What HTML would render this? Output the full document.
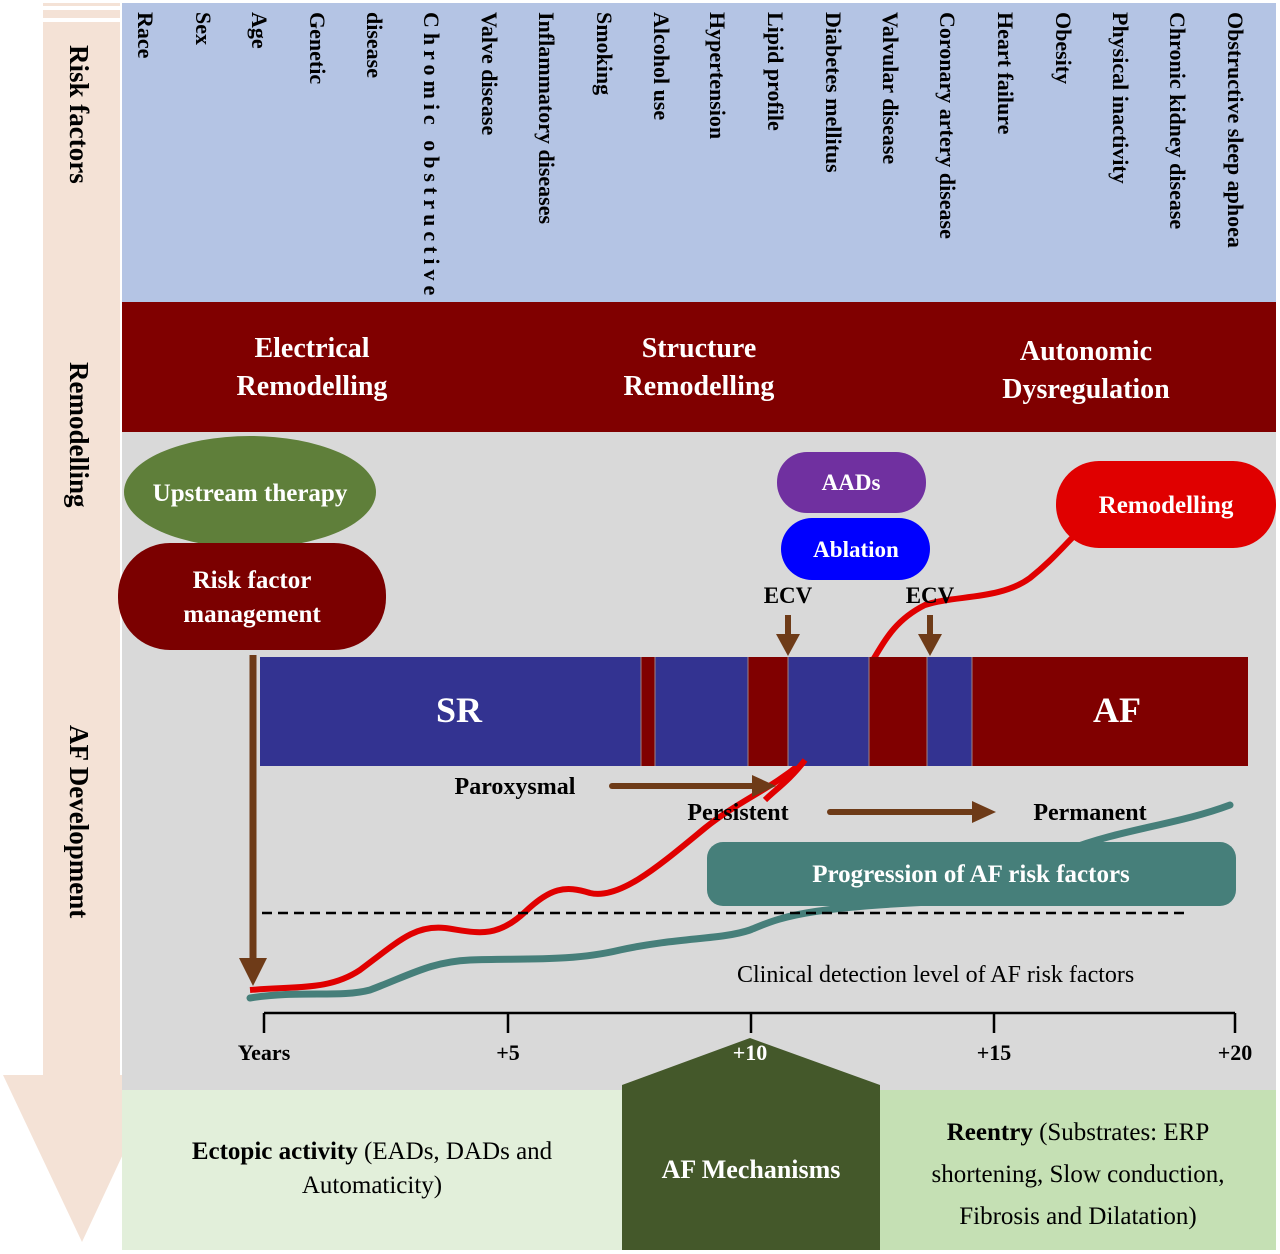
<!DOCTYPE html>
<html><head><meta charset="utf-8"><style>body{margin:0;background:#fff}svg{display:block}</style></head><body>
<svg width="1280" height="1254" viewBox="0 0 1280 1254" xmlns="http://www.w3.org/2000/svg" font-family="Liberation Serif, serif" font-weight="bold">
<!-- left arrow -->
<rect x="43" y="3" width="77" height="3" fill="#f4e2d6"/>
<rect x="43" y="10" width="77" height="8" fill="#f4e2d6"/>
<rect x="43" y="22" width="77" height="1060" fill="#f4e2d6"/>
<polygon points="3,1075 160,1075 82,1242" fill="#f4e2d6"/>
<g font-size="27" fill="#000">
<text transform="translate(70,45) rotate(90)">Risk factors</text>
<text transform="translate(70,362) rotate(90)">Remodelling</text>
<text transform="translate(70,725) rotate(90)">AF Development</text>
</g>
<!-- panels -->
<rect x="122" y="3" width="1154" height="300" fill="#b4c4e4"/>
<rect x="122" y="302" width="1154" height="130" fill="#800000"/>
<rect x="122" y="432" width="1154" height="660" fill="#d9d9d9"/>
<rect x="122" y="1090" width="500" height="160" fill="#e2efda"/>
<rect x="880" y="1090" width="396" height="160" fill="#c5e0b4"/>
<polygon points="622,1085 750,1038 880,1085 880,1250 622,1250" fill="#44582a"/>
<!-- risk factors -->
<g font-size="22" fill="#000">
<text transform="translate(138,12) rotate(90)">Race</text>
<text transform="translate(196,12) rotate(90)">Sex</text>
<text transform="translate(252,12) rotate(90)">Age</text>
<text transform="translate(310,12) rotate(90)">Genetic</text>
<text transform="translate(367,12) rotate(90)">disease</text>
<text transform="translate(424,12) rotate(90)" letter-spacing="5">Chromic obstructive</text>
<text transform="translate(482,12) rotate(90)">Valve disease</text>
<text transform="translate(539,12) rotate(90)">Inflammatory diseases</text>
<text transform="translate(597,12) rotate(90)">Smoking</text>
<text transform="translate(654,12) rotate(90)">Alcohol use</text>
<text transform="translate(710,12) rotate(90)">Hypertension</text>
<text transform="translate(768,12) rotate(90)">Lipid profile</text>
<text transform="translate(826,12) rotate(90)">Diabetes mellitus</text>
<text transform="translate(883,12) rotate(90)">Valvular disease</text>
<text transform="translate(940,12) rotate(90)">Coronary artery disease</text>
<text transform="translate(998,12) rotate(90)">Heart failure</text>
<text transform="translate(1056,12) rotate(90)">Obesity</text>
<text transform="translate(1113,12) rotate(90)">Physical inactivity</text>
<text transform="translate(1170,12) rotate(90)">Chronic kidney disease</text>
<text transform="translate(1228,12) rotate(90)">Obstructive sleep aphoea</text>
</g>
<g font-size="28" fill="#fff" text-anchor="middle">
<text x="312" y="357">Electrical</text><text x="312" y="395">Remodelling</text>
<text x="699" y="357">Structure</text><text x="699" y="395">Remodelling</text>
<text x="1086" y="360">Autonomic</text><text x="1086" y="398">Dysregulation</text>
</g>
<!-- curves -->
<path d="M250,990 C300,986 330,990 360,970 C400,940 415,925 445,928 C475,932 495,940 525,912 C550,888 565,885 590,893 C620,900 660,865 705,828 C740,800 770,790 805,760 L870,665 C885,640 895,620 925,605 C955,595 1000,600 1030,578 C1050,562 1060,550 1075,535" fill="none" stroke="#e00000" stroke-width="6"/>
<path d="M250,998 C300,990 340,998 370,990 C410,975 430,962 470,960 C520,958 570,962 620,950 C680,937 720,940 750,930 C780,918 800,905 990,900 C1060,830 1150,835 1230,805" fill="none" stroke="#467f7a" stroke-width="7" stroke-linecap="round"/>
<!-- bar -->
<rect x="260" y="657" width="381" height="109" fill="#333391"/>
<rect x="641" y="657" width="14" height="109" fill="#800000"/>
<rect x="655" y="657" width="93" height="109" fill="#333391"/>
<rect x="748" y="657" width="40" height="109" fill="#800000"/>
<rect x="788" y="657" width="81" height="109" fill="#333391"/>
<rect x="869" y="657" width="58" height="109" fill="#800000"/>
<rect x="927" y="657" width="45" height="109" fill="#333391"/>
<rect x="972" y="657" width="276" height="109" fill="#800000"/>
<g stroke="#a08080" stroke-width="1" fill="none"><path d="M641,657V766M655,657V766M748,657V766M788,657V766M869,657V766M927,657V766M972,657V766"/></g>
<text x="459" y="722" font-size="36" fill="#fff" text-anchor="middle">SR</text>
<text x="1117" y="722" font-size="36" fill="#fff" text-anchor="middle">AF</text>
<!-- red curve through bar lower part -->
<path d="M765,800 C775,790 790,780 805,760" fill="none" stroke="#e00000" stroke-width="6"/>
<!-- shapes -->
<ellipse cx="250" cy="492" rx="126" ry="56" fill="#5f7f3a"/>
<text x="250" y="501" font-size="25" fill="#fff" text-anchor="middle">Upstream therapy</text>
<rect x="118" y="543" width="268" height="107" rx="52" fill="#7b0000"/>
<text x="252" y="588" font-size="25" fill="#fff" text-anchor="middle">Risk factor</text>
<text x="252" y="622" font-size="25" fill="#fff" text-anchor="middle">management</text>
<rect x="777" y="452" width="149" height="61" rx="30" fill="#7030a0"/>
<text x="851" y="490" font-size="23" fill="#fff" text-anchor="middle">AADs</text>
<rect x="781" y="518" width="149" height="62" rx="31" fill="#0000ff"/>
<text x="856" y="557" font-size="23" fill="#fff" text-anchor="middle">Ablation</text>
<rect x="1056" y="461" width="220" height="87" rx="43" fill="#e00000"/>
<text x="1166" y="513" font-size="25" fill="#fff" text-anchor="middle">Remodelling</text>
<rect x="707" y="842" width="529" height="64" rx="16" fill="#467f7a"/>
<text x="971" y="882" font-size="25" fill="#fff" text-anchor="middle">Progression of AF risk factors</text>
<!-- arrows -->
<g fill="#6e3b18" stroke="#6e3b18">
<line x1="253" y1="655" x2="253" y2="962" stroke-width="7"/>
<polygon points="239,958 267,958 253,986" stroke="none"/>
<line x1="788" y1="615" x2="788" y2="638" stroke-width="6"/>
<polygon points="776,634 800,634 788,656" stroke="none"/>
<line x1="930" y1="615" x2="930" y2="638" stroke-width="6"/>
<polygon points="918,634 942,634 930,656" stroke="none"/>
<line x1="612" y1="786" x2="755" y2="786" stroke-width="6" stroke-linecap="round"/>
<polygon points="752,775 776,786 752,797" stroke="none"/>
<line x1="830" y1="812" x2="975" y2="812" stroke-width="6" stroke-linecap="round"/>
<polygon points="972,801 996,812 972,823" stroke="none"/>
</g>
<g font-size="23" fill="#000">
<text x="788" y="603" text-anchor="middle">ECV</text>
<text x="930" y="603" text-anchor="middle">ECV</text>
<text x="515" y="794" text-anchor="middle" font-size="24">Paroxysmal</text>
<text x="738" y="820" text-anchor="middle" font-size="24">Persistent</text>
<text x="1090" y="820" text-anchor="middle" font-size="24">Permanent</text>
</g>
<line x1="262" y1="913" x2="1185" y2="913" stroke="#000" stroke-width="2.5" stroke-dasharray="10,6"/>
<text x="737" y="982" font-size="24" font-weight="normal" fill="#000">Clinical detection level of AF risk factors</text>
<!-- axis -->
<g stroke="#000" stroke-width="2.5"><path d="M264,1013H1235M264,1013V1033M508,1013V1033M751,1013V1033M994,1013V1033M1235,1013V1033"/></g>
<g font-size="22" fill="#000" text-anchor="middle">
<text x="264" y="1060">Years</text><text x="508" y="1060">+5</text><text x="994" y="1060">+15</text><text x="1235" y="1060">+20</text>
</g>
<text x="750" y="1060" font-size="22" fill="#fff" text-anchor="middle">+10</text>
<!-- bottom -->
<g font-size="25" fill="#000" text-anchor="middle" font-weight="normal">
<text x="372" y="1159"><tspan font-weight="bold">Ectopic activity</tspan> (EADs, DADs and</text>
<text x="372" y="1193">Automaticity)</text>
<text x="1078" y="1140"><tspan font-weight="bold">Reentry</tspan> (Substrates: ERP</text>
<text x="1078" y="1182">shortening, Slow conduction,</text>
<text x="1078" y="1224">Fibrosis and Dilatation)</text>
</g>
<text x="751" y="1178" font-size="26" fill="#fff" text-anchor="middle">AF Mechanisms</text>
</svg>
</body></html>
